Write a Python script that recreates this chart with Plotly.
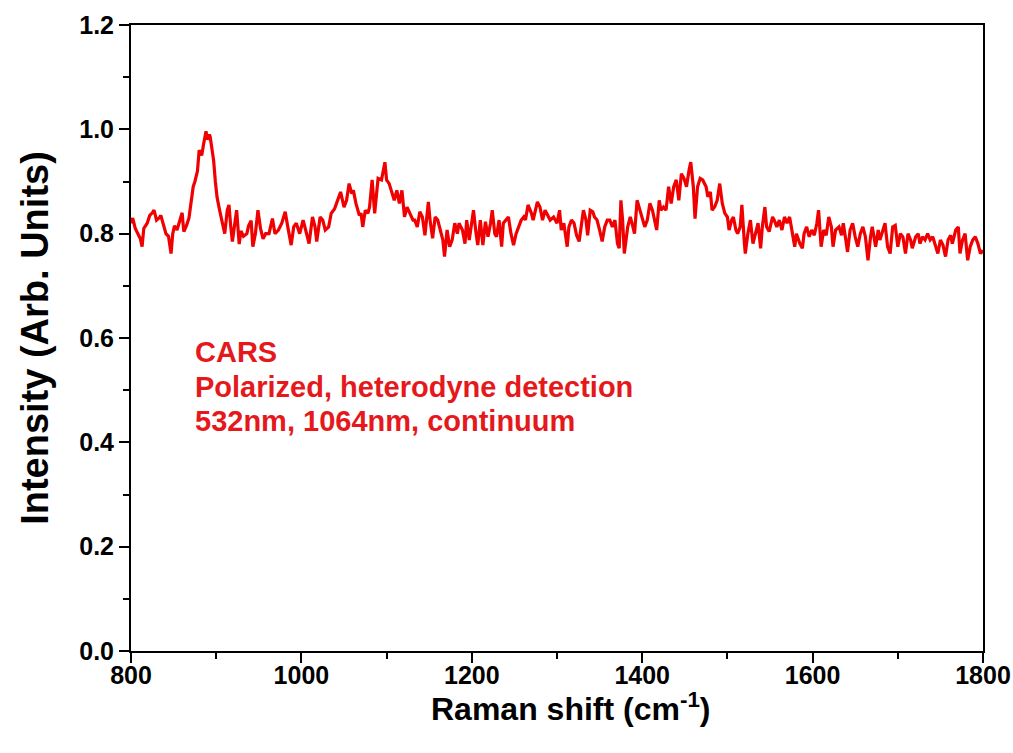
import plotly.graph_objects as go

raman_shift = [
    800, 802, 805, 808, 811, 813, 815, 819, 822, 825, 827, 830, 833, 835, 838, 841, 844, 847, 849, 851,
    854, 858, 860, 862, 865, 868, 870, 873, 875, 878, 880, 883, 885, 888, 890, 892, 893, 895, 897, 899,
    901, 904, 907, 910, 913, 915, 917, 919, 921, 924, 927, 929, 932, 936, 938, 941, 943, 946, 949, 952,
    955, 958, 962,
    966, 969, 973, 977, 981, 984, 988, 991, 994, 998, 1002, 1005, 1009, 1013, 1016, 1018, 1022, 1025, 1028, 1032,
    1035, 1039, 1043, 1046, 1050, 1053, 1056, 1059, 1061, 1064, 1068, 1070, 1072, 1075, 1078, 1080, 1083, 1086, 1090, 1094,
    1098, 1100, 1103, 1107, 1109, 1112, 1115, 1118, 1121, 1124, 1127, 1131,
    1133, 1136, 1139, 1142, 1145, 1149, 1151, 1154, 1157, 1160, 1163, 1166, 1168, 1171, 1174, 1177, 1180, 1183, 1185, 1189,
    1192, 1194, 1197, 1199, 1202, 1205, 1207, 1210, 1213, 1216, 1219, 1222, 1224, 1227, 1229, 1232, 1235, 1237, 1240, 1243,
    1246, 1249, 1252, 1255, 1258, 1261, 1263, 1266, 1270, 1272, 1275, 1277, 1280, 1283, 1286, 1289, 1292, 1296,
    1300, 1303, 1305, 1308, 1312, 1314, 1317, 1320, 1323, 1326, 1329, 1331, 1334, 1336, 1339, 1342, 1344, 1347, 1350, 1353,
    1356, 1359, 1362, 1365, 1368, 1371, 1373, 1375, 1377, 1379, 1383, 1386, 1388, 1391, 1394, 1397, 1400, 1403, 1406, 1409,
    1412, 1414, 1417, 1420, 1422, 1425, 1428, 1431, 1434, 1437, 1440, 1443, 1446, 1449, 1452, 1455, 1457, 1460, 1462, 1465,
    1468, 1471, 1475, 1477, 1480, 1482, 1485, 1488, 1491, 1494, 1497, 1500, 1502, 1505, 1507, 1510, 1512, 1515, 1517, 1520,
    1521, 1524, 1527, 1530, 1533, 1536, 1539, 1541, 1544, 1546, 1549, 1553, 1555, 1558, 1561, 1564, 1567, 1570, 1573, 1576,
    1579, 1581, 1585, 1588, 1590, 1593, 1596, 1599, 1602, 1605, 1607, 1610, 1613, 1616, 1619, 1622, 1624, 1627, 1631,
    1634, 1636, 1639, 1641, 1644, 1647, 1650, 1653, 1656, 1659, 1662, 1665, 1668, 1670, 1674, 1677, 1679, 1682, 1685, 1688,
    1691, 1694, 1697, 1700, 1703, 1706, 1709, 1712, 1715, 1717, 1721, 1724, 1726, 1729, 1732, 1735, 1738, 1741, 1744, 1747,
    1750, 1753, 1756, 1759, 1762, 1764, 1768, 1771, 1773, 1776, 1779, 1782, 1785, 1788, 1791, 1794, 1797, 1800,
]

intensity = [
    0.820, 0.830, 0.810, 0.800, 0.790, 0.775, 0.810, 0.820, 0.835, 0.840, 0.845, 0.826, 0.830, 0.835, 0.815, 0.800, 0.795, 0.762, 0.800, 0.815,
    0.807, 0.826, 0.840, 0.804, 0.815, 0.830, 0.858, 0.890, 0.900, 0.920, 0.960, 0.950, 0.970, 0.996, 0.980, 0.990, 0.985, 0.960, 0.940, 0.900,
    0.870, 0.845, 0.820, 0.800, 0.845, 0.855, 0.815, 0.785, 0.810, 0.845, 0.780, 0.805, 0.795, 0.800, 0.815, 0.825, 0.775, 0.800, 0.845, 0.810,
    0.790, 0.800, 0.800,
    0.829, 0.800, 0.807, 0.820, 0.842, 0.813, 0.778, 0.813, 0.820, 0.800, 0.826, 0.807, 0.781, 0.832, 0.813, 0.785, 0.832, 0.826, 0.807, 0.813,
    0.839, 0.848, 0.864, 0.880, 0.851, 0.864, 0.896, 0.877, 0.883, 0.858, 0.835, 0.839, 0.813, 0.845, 0.839, 0.851, 0.903, 0.839, 0.906, 0.903,
    0.937, 0.903, 0.896, 0.877, 0.864, 0.883, 0.858, 0.883, 0.832, 0.851, 0.839, 0.826,
    0.826, 0.813, 0.842, 0.832, 0.797, 0.861, 0.826, 0.791, 0.832, 0.826, 0.807, 0.788, 0.756, 0.807, 0.775, 0.788, 0.820, 0.800, 0.820, 0.807,
    0.781, 0.826, 0.788, 0.813, 0.845, 0.800, 0.778, 0.826, 0.778, 0.823, 0.794, 0.820, 0.845, 0.800, 0.794, 0.826, 0.775, 0.820, 0.826, 0.832,
    0.800, 0.778, 0.800, 0.813, 0.826, 0.832, 0.826, 0.855, 0.839, 0.826, 0.845, 0.861, 0.851, 0.826, 0.845, 0.835, 0.826, 0.832,
    0.820, 0.845, 0.807, 0.820, 0.775, 0.813, 0.826, 0.820, 0.797, 0.785, 0.820, 0.845, 0.826, 0.797, 0.845, 0.842, 0.832, 0.826, 0.807, 0.785,
    0.813, 0.826, 0.826, 0.813, 0.826, 0.781, 0.772, 0.864, 0.826, 0.762, 0.813, 0.832, 0.820, 0.800, 0.864, 0.845, 0.826, 0.813, 0.826, 0.858,
    0.845, 0.832, 0.807, 0.864, 0.845, 0.851, 0.845, 0.890, 0.858, 0.890, 0.903, 0.864, 0.915, 0.906, 0.890, 0.922, 0.937, 0.890, 0.829, 0.890,
    0.906, 0.903, 0.890, 0.871, 0.880, 0.845, 0.851, 0.864, 0.896, 0.858, 0.839, 0.832, 0.807, 0.826, 0.832, 0.807, 0.800, 0.813, 0.855, 0.781,
    0.762, 0.800, 0.826, 0.781, 0.800, 0.820, 0.772, 0.813, 0.851, 0.813, 0.804, 0.832, 0.826, 0.813, 0.826, 0.807, 0.832, 0.820, 0.832, 0.807,
    0.775, 0.800, 0.781, 0.772, 0.800, 0.813, 0.794, 0.807, 0.797, 0.820, 0.845, 0.775, 0.807, 0.797, 0.832, 0.813, 0.775, 0.807, 0.813,
    0.797, 0.820, 0.788, 0.765, 0.807, 0.820, 0.794, 0.775, 0.800, 0.813, 0.794, 0.749, 0.794, 0.813, 0.775, 0.807, 0.788, 0.807, 0.820, 0.775,
    0.762, 0.813, 0.816, 0.775, 0.800, 0.794, 0.762, 0.800, 0.788, 0.772, 0.794, 0.800, 0.781, 0.794, 0.788, 0.800, 0.788, 0.794, 0.775, 0.762,
    0.788, 0.778, 0.756, 0.788, 0.797, 0.781, 0.807, 0.813, 0.762, 0.788, 0.800, 0.749, 0.775, 0.788, 0.794, 0.781, 0.762, 0.768,
]

label_lines = ["CARS", "Polarized, heterodyne detection", "532nm, 1064nm, continuum"]
label_y = [0.573, 0.506, 0.440]

FONT = "Liberation Sans, Arial, sans-serif"
RED = "#f00000"
TEXT_RED = "#e5191c"

fig = go.Figure()
fig.add_trace(go.Scatter(
    x=raman_shift, y=intensity, mode="lines",
    line=dict(color=RED, width=3.2), showlegend=False,
))

for txt, yy in zip(label_lines, label_y):
    fig.add_annotation(
        x=872.5, y=yy, xref="x", yref="y", text=txt, showarrow=False,
        xanchor="left", yanchor="middle",
        font=dict(family=FONT, size=29, color=TEXT_RED, weight="bold"),
    )

# x-axis title placed as a paper-anchored label below the tick labels
fig.add_annotation(
    x=0.516, y=-0.089, xref="paper", yref="paper",
    text="Raman shift (cm<sup>-1</sup>)", showarrow=False,
    xanchor="center", yanchor="middle",
    font=dict(family=FONT, size=32, color="black", weight="bold"),
)

axis_common = dict(
    showline=True, linecolor="black", linewidth=2, mirror=True,
    ticks="outside", ticklen=10, tickwidth=2, tickcolor="black",
    showgrid=False, zeroline=False, automargin=False,
    tickfont=dict(family=FONT, size=25, color="black", weight="bold"),
)

fig.update_xaxes(
    range=[800, 1800], dtick=200, tick0=800, ticklabelstandoff=-9,
    minor=dict(dtick=100, ticks="outside", ticklen=6, tickwidth=2, tickcolor="black"),
    **axis_common,
)
fig.update_yaxes(
    range=[0, 1.2], dtick=0.2, tick0=0, tickformat=".1f",
    minor=dict(dtick=0.1, ticks="outside", ticklen=6, tickwidth=2, tickcolor="black"),
    title=dict(text="Intensity (Arb. Units)", standoff=19,
               font=dict(family=FONT, size=38, color="black", weight="bold")),
    **axis_common,
)

fig.update_layout(
    width=1013, height=753,
    margin=dict(l=131, r=30, t=25, b=102),
    paper_bgcolor="white", plot_bgcolor="white",
)

fig.write_html("out.html")
